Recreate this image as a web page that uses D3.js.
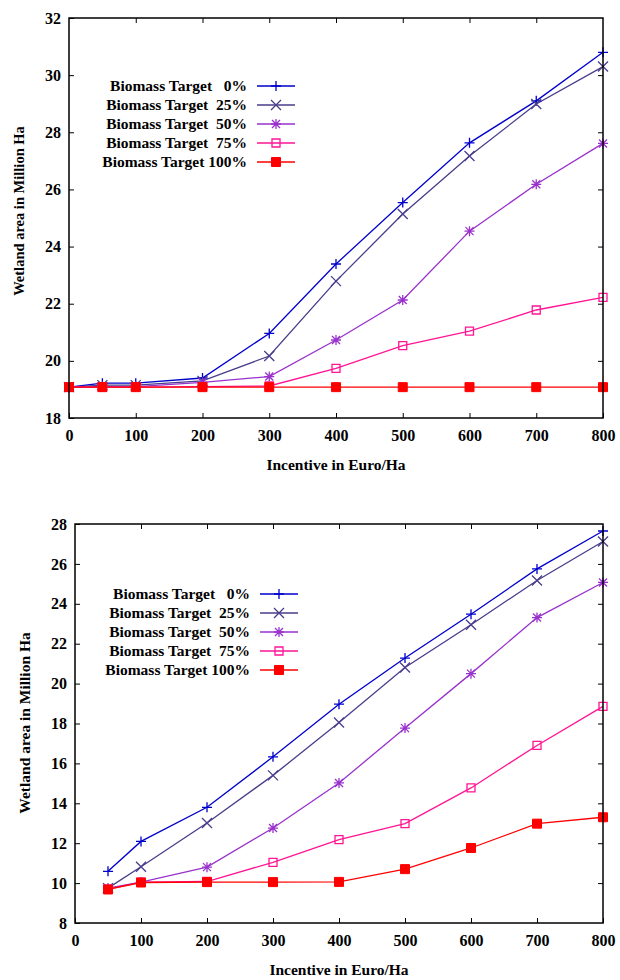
<!DOCTYPE html>
<html>
<head>
<meta charset="utf-8">
<script src="https://cdn.jsdelivr.net/npm/d3@7"></script>
<style>
  html, body { margin: 0; padding: 0; background: #fff; }
  svg { display: block; }
  svg text { font-family: 'Liberation Serif', 'Times New Roman', Times, serif !important; font-weight: 700 !important; fill: #000; }
</style>
</head>
<body>
<script>
// ---------- DATA ----------
const seriesNames = ["Biomass Target   0%", "Biomass Target  25%", "Biomass Target  50%", "Biomass Target  75%", "Biomass Target 100%"];
const seriesColors = ["#0000cd", "#483d8b", "#9932cc", "#ff1493", "#ff0000"];
const seriesMarkers = ["plus", "cross", "star", "square", "filled"];

// Top panel
const topX = [0, 50, 100, 200, 300, 400, 500, 600, 700, 800];
const top0   = [19.08, 19.22, 19.22, 19.40, 20.96, 23.39, 25.54, 27.63, 29.10, 30.80];
const top25  = [19.08, 19.15, 19.15, 19.30, 20.17, 22.79, 25.14, 27.17, 28.99, 30.30];
const top50  = [19.08, 19.10, 19.10, 19.25, 19.45, 20.73, 22.13, 24.54, 26.18, 27.61];
const top75  = [19.08, 19.08, 19.08, 19.10, 19.12, 19.74, 20.53, 21.04, 21.78, 22.22];
const top100 = [19.08, 19.08, 19.08, 19.08, 19.08, 19.08, 19.08, 19.08, 19.08, 19.08];
const topXTicks = [0, 100, 200, 300, 400, 500, 600, 700, 800];
const topYTicks = [18, 20, 22, 24, 26, 28, 30, 32];

// Bottom panel
const botX = [50, 100, 200, 300, 400, 500, 600, 700, 800];
const bot0   = [10.59, 12.09, 13.80, 16.33, 18.97, 21.28, 23.48, 25.75, 27.65];
const bot25  = [9.75, 10.82, 13.01, 15.40, 18.05, 20.81, 22.95, 25.17, 27.12];
const bot50  = [9.75, 10.05, 10.80, 12.76, 15.02, 17.77, 20.50, 23.31, 25.07];
const bot75  = [9.70, 10.05, 10.08, 11.04, 12.18, 12.98, 14.77, 16.90, 18.86];
const bot100 = [9.68, 10.03, 10.05, 10.05, 10.06, 10.70, 11.76, 12.98, 13.30];
const botXTicks = [0, 100, 200, 300, 400, 500, 600, 700, 800];
const botYTicks = [8, 10, 12, 14, 16, 18, 20, 22, 24, 26, 28];

const xTitle = "Incentive in Euro/Ha";
const yTitle = "Wetland area in Million Ha";

// ---------- DRAW ----------
const FONT = "'Liberation Serif', 'Times New Roman', Times, serif";
const svg = d3.select("body").append("svg").attr("width", 620).attr("height", 980)
  .attr("font-family", FONT).attr("font-weight", "bold");

function markerPath(type, r) {
  const p = d3.path();
  if (type === "plus" || type === "star") {
    p.moveTo(-r, 0); p.lineTo(r, 0); p.moveTo(0, -r); p.lineTo(0, r);
  }
  if (type === "cross" || type === "star") {
    const q = type === "star" ? r * 0.8 : r;
    p.moveTo(-q, -q); p.lineTo(q, q); p.moveTo(-q, q); p.lineTo(q, -q);
  }
  if (type === "square" || type === "filled") {
    p.rect(-r, -r, 2 * r, 2 * r);
  }
  return p.toString();
}

function drawMarker(g, type, color, x, y) {
  const r = type === "filled" ? 4.5 : (type === "square" ? 4 : 5);
  g.append("path")
    .attr("transform", `translate(${x},${y})`)
    .attr("d", markerPath(type, r))
    .attr("fill", type === "filled" ? color : "none")
    .attr("stroke", color)
    .attr("stroke-width", type === "filled" ? 1 : 1.3);
}

function panel(cfg) {
  const { left, right, top, bottom, xDomain, yDomain, xs, ys, xTicks, yTicks } = cfg;
  const x = d3.scaleLinear().domain(xDomain).range([left, right]);
  const y = d3.scaleLinear().domain(yDomain).range([bottom, top]);
  const g = svg.append("g");

  const tl = 5;
  const axB = g.append("g").attr("transform", `translate(0,${bottom})`)
    .call(d3.axisBottom(x).tickValues(xTicks).tickSizeInner(-tl).tickSizeOuter(0).tickPadding(12));
  const axT = g.append("g").attr("transform", `translate(0,${top})`)
    .call(d3.axisTop(x).tickValues(xTicks.filter(v => v > xDomain[0] && v < xDomain[1])).tickSizeInner(-tl).tickSizeOuter(0).tickFormat(""));
  const axL = g.append("g").attr("transform", `translate(${left},0)`)
    .call(d3.axisLeft(y).tickValues(yTicks).tickSizeInner(-tl).tickSizeOuter(0).tickPadding(cfg.yPad));
  const axR = g.append("g").attr("transform", `translate(${right},0)`)
    .call(d3.axisRight(y).tickValues(yTicks.filter(v => v > yDomain[0] && v < yDomain[1])).tickSizeInner(-tl).tickSizeOuter(0).tickFormat(""));
  [axB, axT, axL, axR].forEach(a => {
    a.attr("font-family", FONT).attr("font-size", cfg.tickFont).attr("font-weight", "bold");
    a.select(".domain").remove();
    a.selectAll(".tick line").attr("stroke", "#000").attr("stroke-width", 1);
    a.selectAll("text").attr("fill", "#000");
  });
  axB.selectAll(".tick text").attr("dy", "0.71em");

  ys.forEach((vals, i) => {
    const pts = xs.map((xv, j) => [xv, vals[j]]);
    g.append("path")
      .attr("d", d3.line().x(d => x(d[0])).y(d => y(d[1]))(pts))
      .attr("fill", "none").attr("stroke", seriesColors[i]).attr("stroke-width", 1.3);
  });
  ys.forEach((vals, i) => {
    xs.forEach((xv, j) => drawMarker(g, seriesMarkers[i], seriesColors[i], x(xv), y(vals[j])));
  });

  g.append("rect").attr("x", left).attr("y", top).attr("width", right - left).attr("height", bottom - top)
    .attr("fill", "none").attr("stroke", "#000").attr("stroke-width", 1.5);

  seriesNames.forEach((name, i) => {
    const cy = cfg.legY + i * cfg.legStep;
    g.append("text").attr("x", cfg.legTextX).attr("y", cy).attr("dy", "0.35em")
      .attr("text-anchor", "end").attr("font-size", cfg.legFont)
      .attr("xml:space", "preserve").style("white-space", "pre").text(name);
    g.append("line").attr("x1", cfg.legLineX1).attr("x2", cfg.legLineX2).attr("y1", cy).attr("y2", cy)
      .attr("stroke", seriesColors[i]).attr("stroke-width", 1.3);
    drawMarker(g, seriesMarkers[i], seriesColors[i], (cfg.legLineX1 + cfg.legLineX2) / 2, cy);
  });

  g.append("text").attr("x", (left + right) / 2).attr("y", cfg.xTitleY)
    .attr("text-anchor", "middle").attr("font-size", cfg.titleFont).text(xTitle);
  g.append("text").attr("transform", `translate(${cfg.yTitleX},${cfg.yTitleY}) rotate(-90)`)
    .attr("text-anchor", "middle").attr("dy", "0.35em").attr("font-size", cfg.yTitleFont).text(yTitle);
}

panel({
  left: 69, right: 603, top: 18, bottom: 418,
  xDomain: [0, 800], yDomain: [18, 32],
  xs: topX, ys: [top0, top25, top50, top75, top100],
  xTicks: topXTicks, yTicks: topYTicks, yPad: 8, tickFont: 16,
  legY: 86, legStep: 19, legTextX: 247, legLineX1: 257, legLineX2: 295, legFont: 15.5,
  xTitleY: 470, titleFont: 15.5, yTitleX: 19, yTitleY: 211, yTitleFont: 14.5
});

panel({
  left: 75, right: 603, top: 524, bottom: 923,
  xDomain: [0, 800], yDomain: [8, 28],
  xs: botX, ys: [bot0, bot25, bot50, bot75, bot100],
  xTicks: botXTicks, yTicks: botYTicks, yPad: 8, tickFont: 16,
  legY: 594, legStep: 19, legTextX: 250, legLineX1: 260, legLineX2: 298, legFont: 15.5,
  xTitleY: 975, titleFont: 15.5, yTitleX: 25, yTitleY: 723, yTitleFont: 15.5
});
</script>
</body>
</html>
